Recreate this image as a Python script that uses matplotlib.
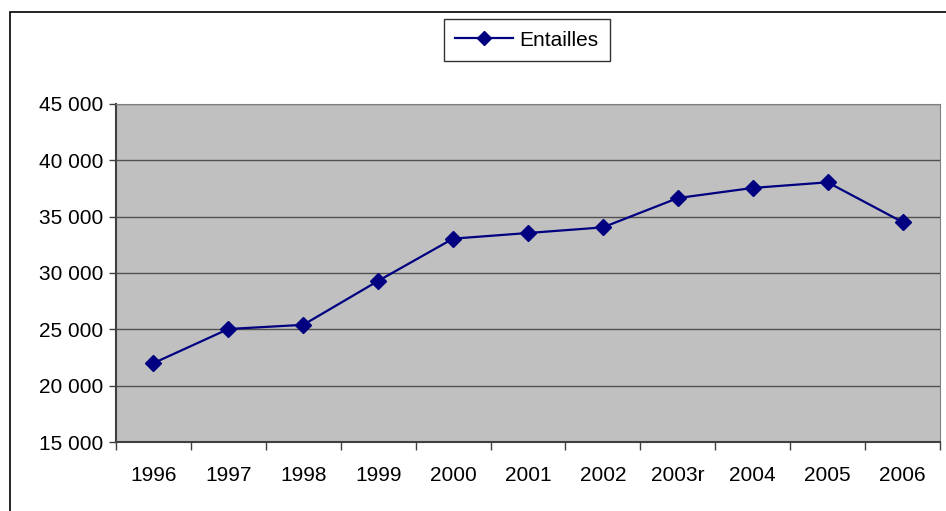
import matplotlib.pyplot as plt
from matplotlib.patches import Rectangle
from matplotlib.ticker import FuncFormatter, MultipleLocator

plt.rcParams['font.family'] = ['Liberation Sans', 'DejaVu Sans']

annees = ['1996', '1997', '1998', '1999', '2000', '2001', '2002',
          '2003r', '2004', '2005', '2006']
entailles = [22000, 25030, 25400, 29300, 33050, 33550, 34050,
             36650, 37550, 38050, 34520]

W, H = 946, 511
fig = plt.figure(figsize=(W / 100, H / 100), dpi=100)
ax = fig.add_axes([116 / W, 1 - 442 / H, (940 - 116) / W, (442 - 104) / H])

# cadre du graphique
fig.patches.append(Rectangle((10 / W, -0.1), 1.2, 1 - 12 / H + 0.1,
                             transform=fig.transFigure, fill=False,
                             edgecolor='black', linewidth=1.2))

x = list(range(len(annees)))
ax.plot(x, entailles, color='#000080', marker='D', markersize=8,
        linewidth=1.6, label='Entailles')

ax.set_facecolor('#C0C0C0')
ax.set_xlim(-0.5, len(annees) - 0.5)
ax.set_ylim(15000, 45000)
ax.yaxis.set_major_locator(MultipleLocator(5000))
ax.yaxis.set_major_formatter(FuncFormatter(lambda v, p: f'{int(v):,}'.replace(',', ' ')))
ax.grid(axis='y', color='#505050', linewidth=1)
ax.set_axisbelow(True)

ax.set_xticks(x)
ax.set_xticklabels(annees)
ax.set_xticks([i - 0.5 for i in range(len(annees) + 1)], minor=True)
ax.tick_params(axis='x', which='major', length=0, pad=17, labelsize=15)
ax.tick_params(axis='x', which='minor', length=6, width=1, color='#404040')
ax.tick_params(axis='y', length=5, width=1, color='#404040', labelsize=15, pad=4)

for s in ['top', 'right']:
    ax.spines[s].set_color('#808080')
for s in ['left', 'bottom']:
    ax.spines[s].set_color('#404040')
    ax.spines[s].set_linewidth(1.5)

leg = fig.legend(loc='center', bbox_to_anchor=(527 / W, 1 - 40 / H),
                 fontsize=15, frameon=True, fancybox=False,
                 handlelength=2.8, borderpad=0.55, handletextpad=0.3,
                 borderaxespad=0)
leg.get_frame().set_edgecolor('black')
leg.get_frame().set_linewidth(1)
for h in leg.legend_handles:
    h.set_markersize(7)

fig.savefig('out.png', dpi=100)
